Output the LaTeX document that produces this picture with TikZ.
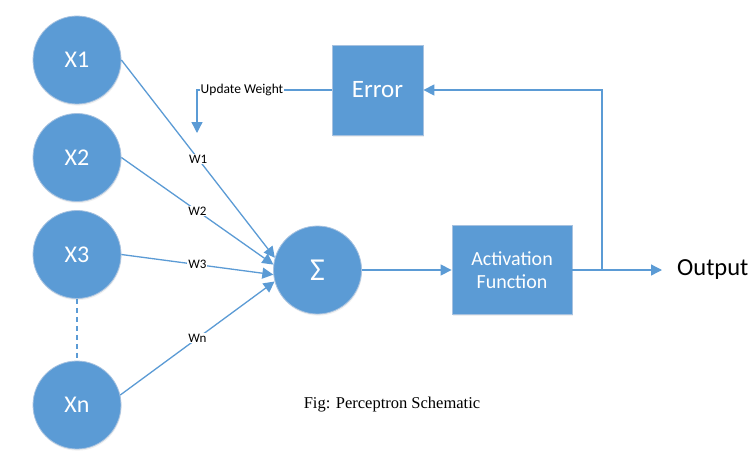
\documentclass[tikz,border=0pt]{standalone}
\usepackage{fontspec}
\setmainfont{Liberation Serif}
\newfontfamily\calfont{Carlito}
\usetikzlibrary{arrows.meta,shadows}
\definecolor{nblue}{HTML}{5B9BD5}
\definecolor{nedge}{HTML}{A7C2E0}
\begin{document}
\begin{tikzpicture}[x=1pt,y=-1pt,
  shade/.style={drop shadow={opacity=0.12, shadow xshift=0.6pt, shadow yshift=-1.6pt}},
  inp/.style={circle, fill=nblue, draw=nedge, line width=0.8pt, minimum size=88pt, inner sep=0pt,
    text=white, font=\calfont\fontsize{24}{28}\selectfont, shade},
  blk/.style={rectangle, fill=nblue, draw=nedge, line width=0.8pt, inner sep=0pt,
    text=white, align=center, shade},
  conn/.style={draw=nblue, line width=1.3pt},
  arr/.style={conn, -{Triangle[length=11pt,width=11pt]}},
  wlab/.style={fill=white, inner sep=1pt, text=black, font=\calfont\fontsize{13}{15}\selectfont}
]
\useasboundingbox (0,0) rectangle (756,459);
\fill[white] (0,0) rectangle (756,459);

% input nodes
\node[inp] (x1) at (77,60) {X1};
\node[inp] (x2) at (77,157.5) {X2};
\node[inp] (x3) at (77,254.5) {X3};
\node[inp] (xn) at (77,405) {Xn};

% summation
\node[inp, font=\calfont\fontsize{32}{36}\selectfont] (sig) at (317.5,270) {Σ};

% boxes
\node[blk, minimum width=91pt, minimum height=90pt, font=\calfont\fontsize{25}{29}\selectfont] (err) at (377.5,90) {Error};
\node[blk, minimum width=120pt, minimum height=89pt, font=\calfont\fontsize{20}{23.5}\selectfont] (act) at (512,270) {Activation\\Function};

% weights
\draw[arr] (x1.east) -- node[wlab, midway] (w1) {W1} (sig.164);
\draw[arr] (x2.east) -- node[wlab, midway] (w2) {W2} (sig.173);
\draw[arr] (x3.east) -- node[wlab, midway] (w3) {W3} (sig.186);
\draw[arr] (xn.13) -- node[wlab, midway] (wn) {Wn} (sig.195);

% dashed link
\draw[conn, dash pattern=on 5pt off 4pt] (x3.south) -- (xn.north);

% sum to activation
\draw[arr] (sig.east) -- (act.west);

% output
\coordinate (outc) at (662,270);
\coordinate (split) at (602,270);
\draw[arr] (act.east) -- (outc);
\node[anchor=west, inner sep=0pt, font=\calfont\fontsize{24.5}{28}\selectfont] (out) at (677,270) {Output};

% feedback
\draw[arr] (split) |- (err.east);

% update weight
\coordinate (bend) at (197,90);
\coordinate (uwend) at (197,133);
\draw[arr] (err.west) -- (bend) -- (uwend);
\node[wlab, font=\calfont\fontsize{13.5}{15}\selectfont, inner sep=0.5pt] (uw) at (242,90) {Update Weight};

% caption
\node[font=\fontsize{16.5}{19}\selectfont] (cap) at (392,405) {Fig: Perceptron Schematic};
\end{tikzpicture}
\end{document}
